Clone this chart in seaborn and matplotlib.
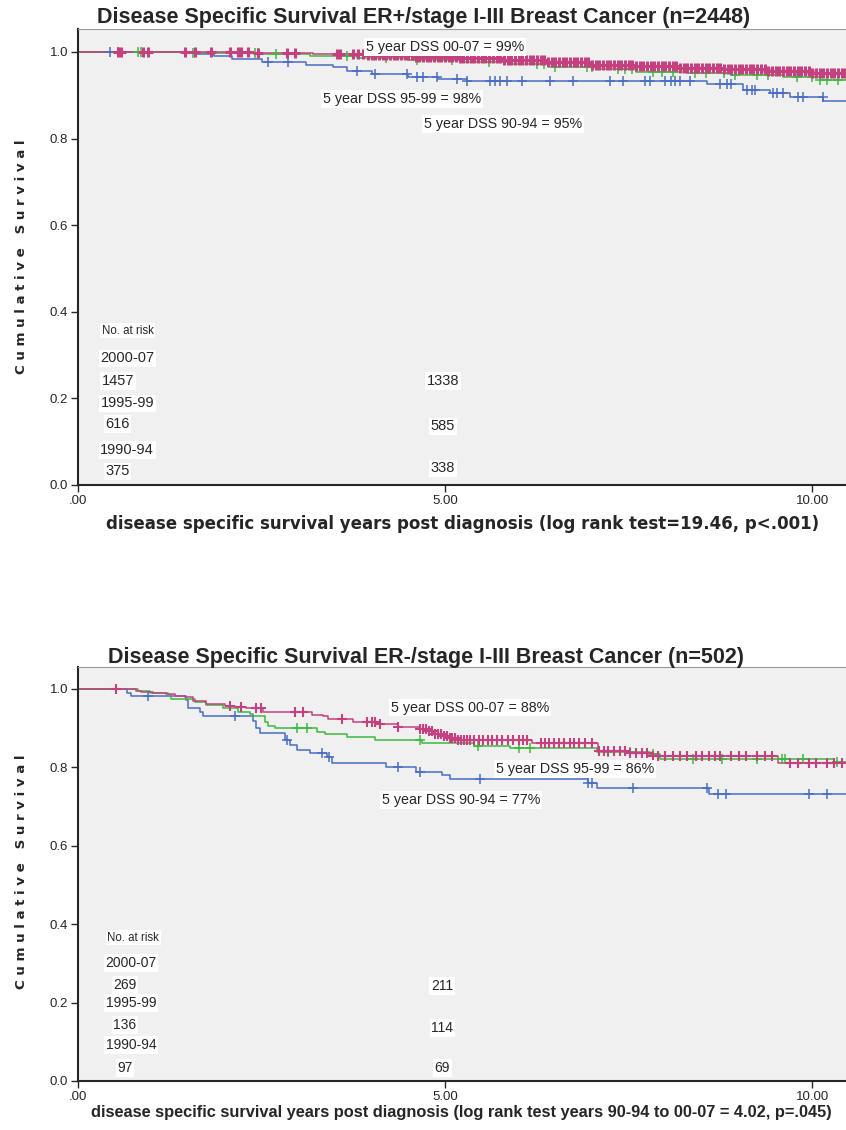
import matplotlib
matplotlib.use("Agg")
import matplotlib.pyplot as plt
import numpy as np
import pandas as pd
import seaborn as sns

# ---- data ----
groups = ["2000-07", "1995-99", "1990-94"]
colors = {"2000-07": "#c4407f", "1995-99": "#3cb83c", "1990-94": "#4a6cc4"}

# top panel: ER+ (step times / survival / censor times)
pink_top_t = [0, 2.4, 3.2, 3.9, 4.6, 5.2, 5.8, 6.4, 7.0, 7.6, 8.2, 8.8, 9.4, 10.0]
pink_top_s = [1.0, 0.998, 0.995, 0.992, 0.989, 0.985, 0.981, 0.976, 0.971, 0.967, 0.963, 0.96, 0.955, 0.952]
pink_top_c = [0.55, 0.59, 0.89, 0.95, 1.46, 1.6, 1.81, 2.07, 2.18, 2.22, 2.32, 2.45, 2.85, 2.95,
              3.53, 3.57, 3.75, 3.82, 3.88, 3.95,
              4.0, 4.05, 4.1, 4.15, 4.2, 4.25, 4.3, 4.35, 4.4, 4.45, 4.5, 4.55, 4.6, 4.65, 4.7,
              4.75, 4.8, 4.85, 4.9, 4.95, 5.0, 5.05, 5.1, 5.15, 5.2, 5.25, 5.3, 5.35, 5.4, 5.45,
              5.5, 5.55, 5.6, 5.65, 5.7, 5.75, 5.8, 5.85, 5.9, 5.95, 6.0, 6.05, 6.1, 6.15, 6.2,
              6.25, 6.3, 6.35, 6.4, 6.45, 6.5, 6.55, 6.6, 6.65, 6.7, 6.75, 6.8, 6.85, 6.9, 6.95,
              7.0, 7.05, 7.1, 7.15, 7.2, 7.25, 7.3, 7.35, 7.4, 7.45, 7.5, 7.55, 7.6, 7.65, 7.7,
              7.75, 7.8, 7.85, 7.9, 7.95, 8.0, 8.05, 8.1, 8.15, 8.2, 8.25, 8.3, 8.35, 8.4, 8.45,
              8.5, 8.55, 8.6, 8.65, 8.7, 8.75, 8.8, 8.85, 8.9, 8.95, 9.0, 9.05, 9.1, 9.15, 9.2,
              9.25, 9.3, 9.35, 9.4, 9.45, 9.5, 9.55, 9.6, 9.65, 9.7, 9.75, 9.8, 9.85, 9.9, 9.95,
              10.0, 10.05, 10.1, 10.15, 10.2, 10.25, 10.3, 10.35, 10.4, 10.45]
green_top_t = [0, 1.5, 2.5, 3.16, 3.8, 4.5, 5.2, 5.9, 6.5, 7.1, 7.6, 8.3, 8.9, 9.6, 10.1]
green_top_s = [1.0, 0.998, 0.995, 0.99, 0.986, 0.982, 0.978, 0.972, 0.965, 0.96, 0.954, 0.951, 0.946, 0.942, 0.936]
green_top_c = [0.82, 0.86, 1.57, 2.41, 2.45, 2.7, 3.66, 4.2, 4.62, 5.1, 5.6, 6.25, 6.35, 6.5, 6.93,
               7.0, 7.35, 7.45, 7.55, 7.83, 7.95, 8.1, 8.4, 8.55, 8.8, 8.95, 9.25, 9.4, 9.79, 10.0,
               10.1, 10.2, 10.35]
blue_top_t = [0, 1.6, 1.85, 2.1, 2.5, 3.1, 3.47, 3.66, 4.0, 4.5, 4.9, 5.3, 7.1, 8.57, 9.06, 9.42, 9.7, 10.15]
blue_top_s = [1.0, 0.995, 0.99, 0.984, 0.976, 0.971, 0.965, 0.955, 0.949, 0.943, 0.938, 0.934, 0.932,
              0.926, 0.912, 0.905, 0.896, 0.887]
blue_top_c = [0.44, 0.54, 2.59, 2.86, 3.8, 4.05, 4.48, 4.62, 4.7, 4.89, 5.16, 5.3, 5.61, 5.68, 5.75,
              5.84, 6.05, 6.43, 6.74, 7.25, 7.42, 7.72, 7.79, 8.0, 8.07, 8.13, 8.2, 8.34, 8.75, 8.84,
              8.9, 9.11, 9.18, 9.22, 9.47, 9.52, 9.6, 9.81, 9.88, 10.14]

# bottom panel: ER-
pink_bot_t = [0, 0.79, 0.86, 1.02, 1.2, 1.32, 1.46, 1.57, 1.74, 2.0, 2.14, 2.29, 2.52, 3.19, 3.34,
              3.41, 3.75, 4.11, 4.36, 4.66, 4.75, 4.85, 4.95, 5.05, 5.16, 6.19, 7.08, 7.52, 7.83, 9.54]
pink_bot_s = [1.0, 0.995, 0.993, 0.99, 0.986, 0.983, 0.979, 0.97, 0.962, 0.957, 0.954, 0.95, 0.942,
              0.934, 0.93, 0.923, 0.916, 0.91, 0.903, 0.897, 0.892, 0.886, 0.88, 0.875, 0.87, 0.862,
              0.842, 0.837, 0.829, 0.811]
pink_bot_c = [0.52, 2.07, 2.22, 2.42, 2.49, 2.96, 3.07, 3.6, 3.94, 4.0, 4.05, 4.11, 4.36, 4.66, 4.7,
              4.74, 4.78, 4.82, 4.86, 4.9, 4.94, 4.98, 5.02, 5.06, 5.1, 5.14, 5.18, 5.22, 5.26, 5.3,
              5.34, 5.4, 5.46, 5.52, 5.58, 5.64, 5.7, 5.78, 5.85, 5.92, 6.0, 6.06, 6.12, 6.3, 6.36,
              6.42, 6.48, 6.55, 6.62, 6.7, 6.76, 6.82, 6.9, 7.0, 7.1, 7.16, 7.22, 7.3, 7.38, 7.45,
              7.52, 7.6, 7.68, 7.75, 7.83, 7.9, 8.0, 8.1, 8.2, 8.3, 8.42, 8.5, 8.6, 8.68, 8.75, 8.9,
              9.0, 9.1, 9.25, 9.35, 9.45, 9.7, 9.8, 9.95, 10.05, 10.2, 10.3, 10.4]
green_bot_t = [0, 0.82, 0.98, 1.23, 1.27, 1.6, 1.74, 1.97, 2.18, 2.34, 2.38, 2.55, 2.59, 2.68, 3.25,
               3.37, 3.66, 4.05, 4.69, 5.4, 5.89, 7.07, 7.79, 7.93, 10.29]
green_bot_s = [1.0, 0.995, 0.99, 0.985, 0.975, 0.967, 0.959, 0.952, 0.941, 0.936, 0.93, 0.916, 0.906,
               0.9, 0.89, 0.885, 0.877, 0.87, 0.862, 0.855, 0.849, 0.84, 0.834, 0.821, 0.814]
green_bot_c = [2.98, 3.12, 4.66, 5.45, 6.0, 6.16, 7.22, 7.52, 7.83, 8.38, 8.77, 9.25, 9.59, 9.63,
               9.88, 10.34]
blue_bot_t = [0, 0.67, 0.72, 1.47, 1.5, 1.66, 1.7, 2.38, 2.42, 2.48, 2.82, 2.89, 2.98, 3.16, 3.39,
              3.46, 4.2, 4.6, 4.96, 5.07, 6.95, 7.07, 8.6]
blue_bot_s = [1.0, 0.99, 0.982, 0.972, 0.95, 0.94, 0.93, 0.918, 0.9, 0.888, 0.87, 0.857, 0.845,
              0.836, 0.827, 0.811, 0.8, 0.789, 0.78, 0.77, 0.76, 0.747, 0.733]
blue_bot_c = [0.95, 2.14, 2.85, 3.32, 3.42, 4.36, 4.66, 5.48, 6.95, 7.0, 7.56, 8.57, 8.72, 8.83,
              9.96, 10.2]

# annotations
top_title = "Disease Specific Survival ER+/stage I-III Breast Cancer (n=2448)"
bot_title = "Disease Specific Survival ER-/stage I-III Breast Cancer (n=502)"
top_xlabel = "disease specific survival years post diagnosis (log rank test=19.46, p<.001)"
bot_xlabel = ("disease specific survival years post diagnosis "
              "(log rank test years 90-94 to 00-07 = 4.02, p=.045)")
top_dss = ["5 year DSS 00-07 = 99%", "5 year DSS 95-99 = 98%", "5 year DSS 90-94 = 95%"]
bot_dss = ["5 year DSS 00-07 = 88%", "5 year DSS 95-99 = 86%", "5 year DSS 90-94 = 77%"]
top_risk_start = [1457, 616, 375]
top_risk_5y = [1338, 585, 338]
bot_risk_start = [269, 136, 97]
bot_risk_5y = [211, 114, 69]

XMAX = 10.46


def curve_frame(t, s, group):
    t = list(t) + [XMAX]
    s = list(s) + [s[-1]]
    return pd.DataFrame({"time": t, "surv": s, "group": group})


def censor_frame(t, s, c, group):
    idx = np.searchsorted(np.array(t), np.array(c), side="right") - 1
    return pd.DataFrame({"time": c, "surv": np.array(s)[idx], "group": group})


def draw_panel(ax, curves, dss, dss_pos, risk_start, risk_5y, risk_pos):
    for t, s, c, g, mlw in curves:
        sns.lineplot(data=curve_frame(t, s, g), x="time", y="surv", ax=ax,
                     color=colors[g], drawstyle="steps-post", linewidth=1.1,
                     estimator=None, sort=False, legend=False)
        sns.scatterplot(data=censor_frame(t, s, c, g), x="time", y="surv", ax=ax,
                        marker="+", s=45, color=colors[g], linewidth=mlw,
                        legend=False, zorder=3)

    ax.set_xlim(0, XMAX)
    ax.set_ylim(0, risk_pos["ytop"])
    ax.set_xticks([0, 5, 10])
    ax.set_xticklabels([".00", "5.00", "10.00"])
    ax.set_yticks([0, 0.2, 0.4, 0.6, 0.8, 1.0])
    ax.set_yticklabels(["0.0", "0.2", "0.4", "0.6", "0.8", "1.0"])
    ax.tick_params(axis="both", length=5, width=1, labelsize=9.5, pad=2)
    ax.set_facecolor("#f0f0f0")
    ax.spines["left"].set_linewidth(1.5)
    ax.spines["bottom"].set_linewidth(1.5)
    ax.spines["top"].set_color("#999999")
    ax.spines["right"].set_visible(False)
    ax.set_xlabel("")
    ax.set_ylabel("")

    box = dict(facecolor="white", edgecolor="none", pad=1.2)
    for txt, (x, y) in zip(dss, dss_pos):
        ax.text(x, y, txt, ha="center", va="center", fontsize=10.3, bbox=box)

    fs = risk_pos["fs"]
    ax.text(risk_pos["nx"], risk_pos["ny"], "No. at risk", ha="center", va="center",
            fontsize=8.3, bbox=box)
    for g, n0, n5, (yg, yn, y5) in zip(groups, risk_start, risk_5y, risk_pos["rows"]):
        ax.text(risk_pos["gx"], yg, g, ha="center", va="center", fontsize=fs, bbox=box)
        ax.text(risk_pos["x0"], yn, str(n0), ha="center", va="center", fontsize=fs, bbox=box)
        ax.text(risk_pos["x5"], y5, str(n5), ha="center", va="center", fontsize=fs, bbox=box)


sns.set_style("ticks")
plt.rcParams["font.family"] = ["Liberation Sans", "DejaVu Sans"]

fig = plt.figure(figsize=(8.46, 11.3), dpi=100)
ax_top = fig.add_axes([0.0922, 0.5708, 0.9078, 0.4035])
ax_bot = fig.add_axes([0.0922, 0.0434, 0.9078, 0.3664])

draw_panel(
    ax_top,
    [(blue_top_t, blue_top_s, blue_top_c, "1990-94", 1.1),
     (green_top_t, green_top_s, green_top_c, "1995-99", 1.1),
     (pink_top_t, pink_top_s, pink_top_c, "2000-07", 2.2)],
    top_dss, [(5.0, 1.012), (4.41, 0.891), (5.79, 0.834)],
    top_risk_start, top_risk_5y,
    {"ytop": 1.053, "nx": 0.68, "ny": 0.356, "gx": 0.67, "x0": 0.54, "x5": 4.97, "fs": 10.5,
     "rows": [(0.293, 0.240, 0.240), (0.189, 0.141, 0.136), (0.081, 0.032, 0.039)]},
)
draw_panel(
    ax_bot,
    [(blue_bot_t, blue_bot_s, blue_bot_c, "1990-94", 1.1),
     (green_bot_t, green_bot_s, green_bot_c, "1995-99", 1.1),
     (pink_bot_t, pink_bot_s, pink_bot_c, "2000-07", 1.5)],
    bot_dss, [(5.34, 0.952), (6.77, 0.796), (5.22, 0.717)],
    bot_risk_start, bot_risk_5y,
    {"ytop": 1.056, "nx": 0.75, "ny": 0.365, "gx": 0.72, "x0": 0.64, "x5": 4.96, "fs": 10,
     "rows": [(0.301, 0.245, 0.242), (0.199, 0.143, 0.135), (0.092, 0.033, 0.033)]},
)

# titles and axis labels placed as in the reference
fig.text(424 / 846, 1 - 17 / 1130, top_title, ha="center", va="center",
         fontsize=15.5, fontweight="bold")
fig.text(426 / 846, 1 - 657 / 1130, bot_title, ha="center", va="center",
         fontsize=15.5, fontweight="bold")
fig.text(463 / 846, 1 - 524 / 1130, top_xlabel, ha="center", va="center",
         fontsize=12, fontweight="bold", family=["DejaVu Sans"])
fig.text(461 / 846, 1 - 1113 / 1130, bot_xlabel, ha="center", va="center",
         fontsize=11.8, fontweight="bold")
ylab = "C u m u l a t i v e   S u r v i v a l"
fig.text(22 / 846, 1 - 257 / 1130, ylab, rotation=90, ha="center", va="center",
         fontsize=9.6, fontweight="bold", family=["DejaVu Sans"])
fig.text(22 / 846, 1 - 872 / 1130, ylab, rotation=90, ha="center", va="center",
         fontsize=9.6, fontweight="bold", family=["DejaVu Sans"])

fig.savefig("out.png", dpi=100, facecolor="white")
